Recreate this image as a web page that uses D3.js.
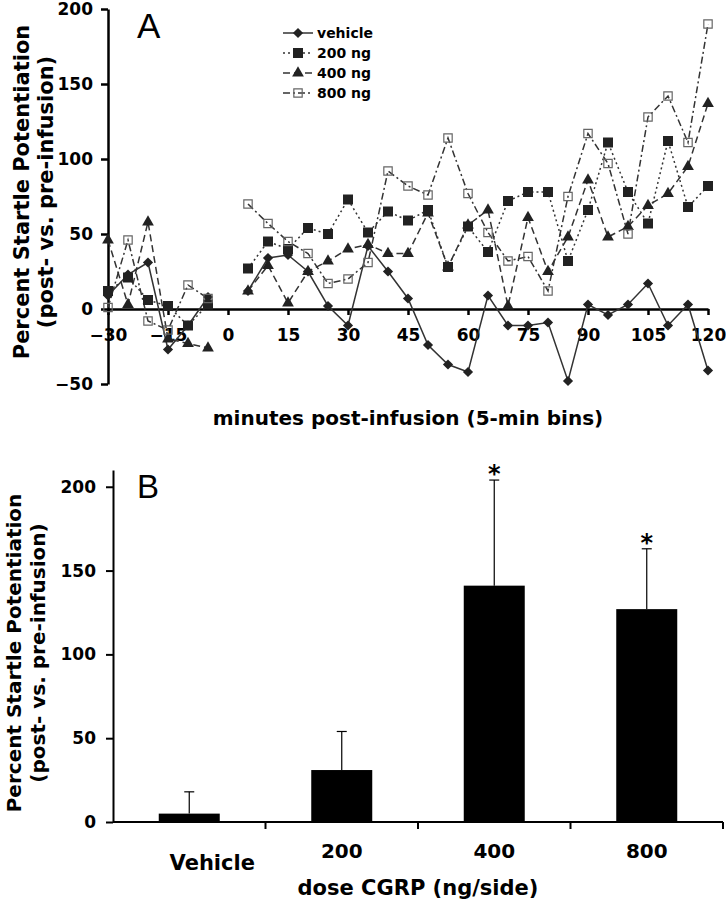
<!DOCTYPE html>
<html>
<head>
<meta charset="utf-8">
<script src="https://cdn.jsdelivr.net/npm/d3@7"></script>
<style>
body { margin: 0; background: #fff; }
text { font-family: "DejaVu Sans", Verdana, sans-serif; font-weight: bold; fill: #000; }
</style>
</head>
<body>
<svg></svg>
<script>
// panel A - 5 min bins, no bin at 0 (infusion)
var minutes = [-30, -25, -20, -15, -10, -5, 0, 5, 10, 15, 20, 25, 30, 35, 40, 45, 50, 55, 60, 65, 70, 75, 80, 85, 90, 95, 100, 105, 110, 115, 120]
var vehicle = [9, 23, 31, -27, -11, 8, null, 12, 34, 36, 25, 2, -11, 42, 25, 7, -24, -37, -42, 9, -11, -11, -9, -48, 3, -4, 3, 17, -11, 3, -41]
var ng200 = [12, 21, 6, 2, -11, 3, null, 27, 45, 40, 54, 50, 73, 51, 65, 59, 66, 28, 55, 38, 72, 78, 78, 32, 66, 111, 78, 57, 112, 68, 82]
var ng400 = [46, 3, 58, -20, -23, -26, null, 12, 29, 4, 25, 32, 40, 43, 37, 37, 64, 28, 56, 66, 2, 61, 25, 48, 86, 48, 55, 69, 77, 95, 137]
var ng800 = [1, 46, -8, -14, 16, 7, null, 70, 57, 45, 37, 17, 20, 31, 92, 82, 76, 114, 77, 51, 32, 35, 12, 75, 117, 97, 50, 128, 142, 111, 190]
var seriesNames = ['vehicle', '200 ng', '400 ng', '800 ng']
var xTicksA = [-30, -15, 0, 15, 30, 45, 60, 75, 90, 105, 120]
var yTicksA = [-50, 0, 50, 100, 150, 200]

// panel B
var doses = ['Vehicle', '200', '400', '800']
var doseMeans = [5, 31, 141, 127]
var doseErr = [13, 23, 63, 36]
var doseSig = [false, false, true, true]
var yTicksB = [0, 50, 100, 150, 200]

var font = '"DejaVu Sans", Verdana, sans-serif'

var svg = d3.select('svg')
    .attr('width', 726)
    .attr('height', 900)

// ---------- A ----------
var xA = d3.scaleLinear().domain([-30, 120]).range([108, 708])
var yA = d3.scaleLinear().domain([-50, 200]).range([384, 9])

var styles = [
    { dash: null, symbol: d3.symbolSquare, size: 52, rotate: 45, fill: '#222', stroke: 'none' },
    { dash: '2,3', symbol: d3.symbolSquare, size: 100, rotate: 0, fill: '#222', stroke: 'none' },
    { dash: '7,4', symbol: d3.symbolTriangle, size: 60, rotate: 0, fill: '#222', stroke: 'none' },
    { dash: '7,3,2,3', symbol: d3.symbolSquare, size: 70, rotate: 0, fill: 'none', stroke: '#666' }
]

var series = [vehicle, ng200, ng400, ng800].map(function(vals, i) {
    return {
        name: seriesNames[i],
        style: styles[i],
        points: vals.map(function(v, j) { return { m: minutes[j], v: v } })
    }
})

function styleAxis(g, size, width) {
    g.attr('font-family', font).attr('font-size', size).attr('font-weight', 'bold')
    g.select('.domain').attr('stroke-width', width)
    g.selectAll('.tick line').attr('stroke-width', width)
}

svg.append('g')
    .attr('transform', 'translate(108,0)')
    .call(d3.axisLeft(yA).tickValues(yTicksA).tickSize(7).tickSizeOuter(0).tickPadding(8))
    .call(styleAxis, 17, 2.5)

svg.append('g')
    .attr('transform', 'translate(0,' + yA(0) + ')')
    .call(d3.axisBottom(xA).tickValues(xTicksA).tickSize(6).tickSizeOuter(0).tickPadding(14))
    .call(styleAxis, 17, 2.5)

var line = d3.line()
    .defined(function(d) { return d.v != null })
    .x(function(d) { return xA(d.m) })
    .y(function(d) { return yA(d.v) })

svg.selectAll('.series-line')
    .data(series)
    .enter()
    .append('path')
    .attr('d', function(d) { return line(d.points) })
    .attr('fill', 'none')
    .attr('stroke', '#333')
    .attr('stroke-width', 1.5)
    .attr('stroke-dasharray', function(d) { return d.style.dash })

function drawMarker(sel, st) {
    sel.attr('d', d3.symbol().type(st.symbol).size(st.size))
        .attr('fill', st.fill)
        .attr('stroke', st.stroke)
        .attr('stroke-width', 1.2)
}

series.forEach(function(s) {
    svg.append('g').selectAll('path')
        .data(s.points.filter(function(d) { return d.v != null }))
        .enter()
        .append('path')
        .attr('transform', function(d) {
            return 'translate(' + xA(d.m) + ',' + yA(d.v) + ') rotate(' + s.style.rotate + ')'
        })
        .call(drawMarker, s.style)
})

// legend
var legend = svg.append('g').selectAll('g')
    .data(series)
    .enter()
    .append('g')
    .attr('transform', function(d, i) { return 'translate(283,' + (33 + i * 20) + ')' })

legend.append('line')
    .attr('x1', 0).attr('x2', 30)
    .attr('stroke', '#333')
    .attr('stroke-width', 1.5)
    .attr('stroke-dasharray', function(d) { return d.style.dash })

legend.append('path')
    .attr('transform', function(d) { return 'translate(15,0) rotate(' + d.style.rotate + ')' })
    .each(function(d) { d3.select(this).call(drawMarker, d.style) })

legend.append('text')
    .attr('x', 34)
    .attr('dy', '0.35em')
    .attr('font-size', 14)
    .text(function(d) { return d.name })

svg.append('text')
    .attr('x', 137).attr('y', 38)
    .attr('font-size', 35)
    .style('font-family', '"Liberation Sans", Arial, sans-serif')
    .style('font-weight', 'normal')
    .text('A')

var yTitleA = svg.append('g').attr('transform', 'translate(22,192) rotate(-90)')
yTitleA.append('text').attr('text-anchor', 'middle').attr('dy', '0.35em').attr('font-size', 21)
    .text('Percent Startle Potentiation')
yTitleA.append('text').attr('text-anchor', 'middle').attr('y', 24).attr('dy', '0.35em').attr('font-size', 21)
    .text('(post- vs. pre-infusion)')

svg.append('text')
    .attr('x', 408).attr('y', 425)
    .attr('text-anchor', 'middle')
    .attr('font-size', 20)
    .text('minutes post-infusion (5-min bins)')

// ---------- B ----------
var xB = d3.scaleBand().domain(doses).range([113, 723]).paddingInner(0.6).paddingOuter(0.3)
var yB = d3.scaleLinear().domain([0, 210]).range([822, 470])

svg.append('g')
    .attr('transform', 'translate(113,0)')
    .call(d3.axisLeft(yB).tickValues(yTicksB).tickSize(7).tickSizeOuter(0).tickPadding(10))
    .call(styleAxis, 17, 2)

var xAxisB = svg.append('g')
    .attr('transform', 'translate(0,' + yB(0) + ')')
    .call(d3.axisBottom(xB).tickSize(0).tickSizeOuter(0).tickPadding(22))
    .call(styleAxis, 20, 2)
xAxisB.select('.domain').attr('d', 'M113,0H723')
xAxisB.selectAll('.tick text')
    .filter(function(d) { return d === 'Vehicle' })
    .attr('dx', 23)
    .attr('y', 33)
    .attr('font-size', 21)

// ticks sit on the category borders
xAxisB.selectAll('.border-tick')
    .data(doses)
    .enter()
    .append('line')
    .attr('x1', function(d) { return xB(d) + xB.bandwidth() + xB.step() * xB.paddingOuter() })
    .attr('x2', function(d) { return xB(d) + xB.bandwidth() + xB.step() * xB.paddingOuter() })
    .attr('y1', 0).attr('y2', 7)
    .attr('stroke', '#000')
    .attr('stroke-width', 2)

var bars = svg.append('g').selectAll('g')
    .data(doses)
    .enter()
    .append('g')

bars.append('line')
    .attr('x1', function(d) { return xB(d) + xB.bandwidth() / 2 })
    .attr('x2', function(d) { return xB(d) + xB.bandwidth() / 2 })
    .attr('y1', function(d, i) { return yB(doseMeans[i]) })
    .attr('y2', function(d, i) { return yB(doseMeans[i] + doseErr[i]) })
    .attr('stroke', '#000')
    .attr('stroke-width', 1.2)

bars.append('line')
    .attr('x1', function(d) { return xB(d) + xB.bandwidth() / 2 - 5 })
    .attr('x2', function(d) { return xB(d) + xB.bandwidth() / 2 + 5 })
    .attr('y1', function(d, i) { return yB(doseMeans[i] + doseErr[i]) })
    .attr('y2', function(d, i) { return yB(doseMeans[i] + doseErr[i]) })
    .attr('stroke', '#000')
    .attr('stroke-width', 1.2)

bars.append('rect')
    .attr('x', function(d) { return xB(d) })
    .attr('width', xB.bandwidth())
    .attr('y', function(d, i) { return yB(doseMeans[i]) })
    .attr('height', function(d, i) { return yB(0) - yB(doseMeans[i]) })
    .attr('fill', '#000')

bars.filter(function(d, i) { return doseSig[i] })
    .append('text')
    .attr('x', function(d) { return xB(d) + xB.bandwidth() / 2 })
    .attr('y', function(d) { var i = doses.indexOf(d); return yB(doseMeans[i] + doseErr[i]) + 2 })
    .attr('text-anchor', 'middle')
    .attr('font-size', 24)
    .text('*')

svg.append('text')
    .attr('x', 137).attr('y', 498)
    .attr('font-size', 33)
    .style('font-family', '"Liberation Sans", Arial, sans-serif')
    .style('font-weight', 'normal')
    .text('B')

var yTitleB = svg.append('g').attr('transform', 'translate(14,653) rotate(-90)')
yTitleB.append('text').attr('text-anchor', 'middle').attr('dy', '0.35em').attr('font-size', 20)
    .text('Percent Startle Potentiation')
yTitleB.append('text').attr('text-anchor', 'middle').attr('y', 24).attr('dy', '0.35em').attr('font-size', 20)
    .text('(post- vs. pre-infusion)')

svg.append('text')
    .attr('x', 418).attr('y', 895)
    .attr('text-anchor', 'middle')
    .attr('font-size', 21)
    .text('dose CGRP (ng/side)')
</script>
</body>
</html>
